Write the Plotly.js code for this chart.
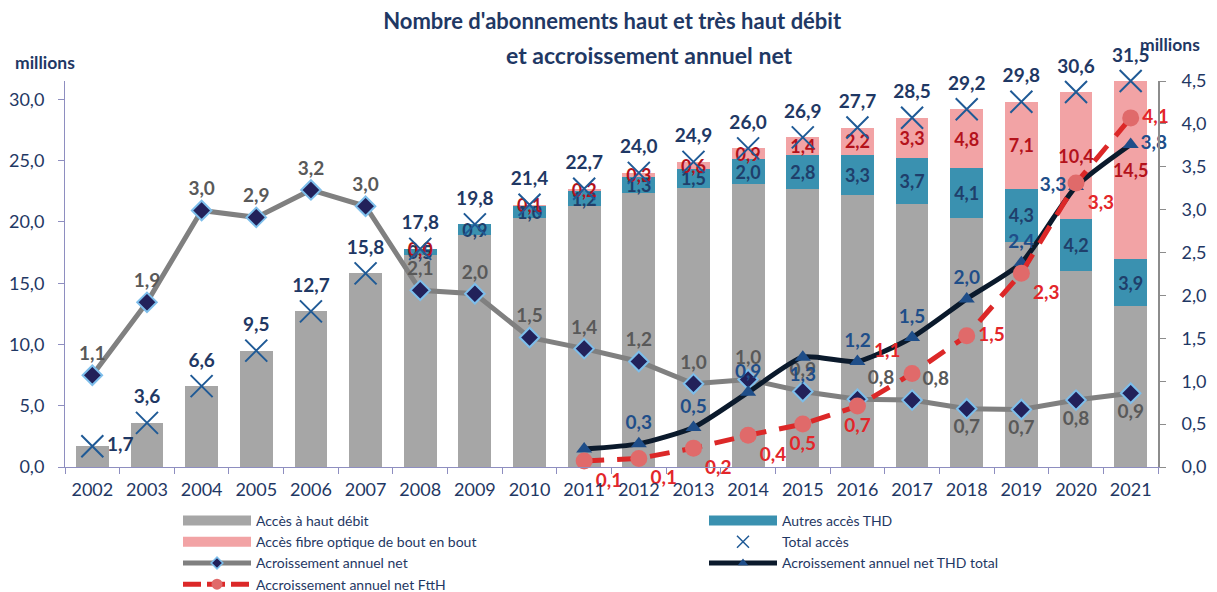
<!DOCTYPE html>
<html>
<head>
<meta charset="utf-8">
<script src="https://cdn.plot.ly/plotly-3.0.1.min.js"></script>
<style>html,body{margin:0;padding:0;background:#fff;}#chart{width:1217px;height:592px;}</style>
</head>
<body>
<div id="chart"></div>
<script>
// ---- data ----
const years = ['2002','2003','2004','2005','2006','2007','2008','2009','2010','2011','2012','2013','2014','2015','2016','2017','2018','2019','2020','2021'];
const hautDebit = [1.7,3.6,6.6,9.5,12.7,15.8,17.3,18.9,20.3,21.3,22.4,22.8,23.1,22.7,22.2,21.5,20.3,18.4,16.0,13.1];
const autresTHD = [null,null,null,null,null,null,0.45,0.9,1.0,1.2,1.3,1.5,2.0,2.8,3.3,3.7,4.1,4.3,4.2,3.9];
const fibreFttH = [null,null,null,null,null,null,0.02,null,0.1,0.2,0.3,0.6,0.9,1.4,2.2,3.3,4.8,7.1,10.4,14.5];
const totalAcces = [1.7,3.6,6.6,9.5,12.7,15.8,17.8,19.8,21.4,22.7,24.0,24.9,26.0,26.9,27.7,28.5,29.2,29.8,30.6,31.5];
const accroissementNet = [1.07,1.92,2.99,2.91,3.23,3.04,2.06,2.02,1.51,1.38,1.23,0.97,1.02,0.88,0.79,0.78,0.68,0.67,0.78,0.86];
const accroissementTHD = [null,null,null,null,null,null,null,null,null,0.21,0.27,0.46,0.87,1.28,1.23,1.51,1.96,2.38,3.27,3.76];
const accroissementFttH = [null,null,null,null,null,null,null,null,null,0.07,0.10,0.22,0.37,0.50,0.71,1.09,1.53,2.26,3.31,4.07];

const fmt = v => (v === null || v === undefined) ? '' : v.toFixed(1).replace('.', ',');
const FONT = 'Lato, "Open Sans", sans-serif';
const NAVY = '#1F3864';

// ---- label placement (style) ----
const netPos = years.map((y, i) => i <= 13 ? 'top center' : (i <= 15 ? 'top right' : 'bottom center'));
const thdPos = ['top center','top center','top center','top center','top center','top center','top center','top center','top center',
  'top center','top center','top center','top center','bottom center','top center','top center','top center','top center','middle left','middle right'];
const fttHPos = ['bottom right','bottom right','bottom right','bottom right','bottom right','bottom right','bottom right','bottom right','bottom right',
  'bottom right','bottom right','bottom right','bottom right','bottom center','bottom center','top left','middle right','bottom right','bottom right','middle right'];
const totalPos = years.map((y, i) => i === 0 ? 'middle right' : 'top center');
const thdLineText = accroissementTHD.map((v, i) => i === 9 ? '' : fmt(v));

const LBL = 19;
const labelFont = (c, s) => ({family: FONT, size: s || LBL, color: c, weight: 'bold'});

const GRAY = '#A6A6A6', TEAL = '#3A91B0', PINK = '#F2A3A5';
const traces = [
  {type:'bar', x: years, y: hautDebit, name:'Accès à haut débit', marker:{color:GRAY},
   showlegend:false, hoverinfo:'skip'},
  {type:'bar', x: years, y: autresTHD, name:'Autres accès THD', marker:{color:TEAL},
   text: autresTHD.map(fmt), textposition:'inside', insidetextanchor:'middle', textangle:0, constraintext:'none',
   textfont: labelFont('#1F3F6B', 18), showlegend:false, hoverinfo:'skip'},
  {type:'bar', x: years, y: fibreFttH, name:'Accès fibre optique de bout en bout', marker:{color:PINK},
   text: fibreFttH.map(fmt), textposition:'inside', insidetextanchor:'middle', textangle:0, constraintext:'none',
   textfont: labelFont('#B4121B', 18), showlegend:false, hoverinfo:'skip'},
  // total
  {type:'scatter', x: years, y: totalAcces, name:'Total accès', mode:'markers+text',
   marker:{symbol:'x-thin', size:22, color:'#1F5A96', line:{width:2, color:'#1F5A96'}},
   text: totalAcces.map(fmt), textposition: totalPos, textfont: labelFont(NAVY), cliponaxis:false,
   showlegend:false, hoverinfo:'skip'},
  // net annual increase
  {type:'scatter', x: years, y: accroissementNet, yaxis:'y2', name:'Acroissement annuel net', mode:'lines+markers+text',
   line:{color:'#808080', width:5},
   marker:{symbol:'diamond', size:15, color:'#22215A', line:{width:2, color:'#7DBEEB'}},
   text: accroissementNet.map(fmt), textposition: netPos, textfont: labelFont('#595959'), cliponaxis:false,
   showlegend:false, hoverinfo:'skip'},
  // THD total
  {type:'scatter', x: years, y: accroissementTHD, yaxis:'y2', name:'Acroissement annuel net THD total', mode:'lines+markers+text',
   line:{color:'#0B1A2C', width:5, shape:'spline', smoothing:0.6},
   marker:{symbol:'triangle-up', size:14, color:'#1F4E89'},
   text: thdLineText, textposition: thdPos, textfont: labelFont('#1F4E89'), cliponaxis:false,
   showlegend:false, hoverinfo:'skip'},
  // FttH
  {type:'scatter', x: years, y: accroissementFttH, yaxis:'y2', name:'Accroissement annuel net FttH', mode:'lines+markers+text',
   line:{color:'#DC2828', width:5, dash:'20px,13px'},
   marker:{symbol:'circle', size:17, color:'#E06A6A'},
   text: accroissementFttH.map(fmt), textposition: fttHPos, textfont: labelFont('#E3262A'), cliponaxis:false,
   showlegend:false, hoverinfo:'skip'},

  // ---- legend entries ----
  {type:'scatter', x:[null], y:[null], mode:'lines', name:'Accès à haut débit', line:{color:GRAY, width:13}, legend:'legend', legendrank:1},
  {type:'scatter', x:[null], y:[null], mode:'lines', name:'Accès fibre optique de bout en bout', line:{color:PINK, width:13}, legend:'legend', legendrank:2},
  {type:'scatter', x:[null], y:[null], yaxis:'y2', mode:'lines+markers', name:'Acroissement annuel net',
   line:{color:'#808080', width:5}, marker:{symbol:'diamond', size:9, color:'#22215A', line:{width:1.5, color:'#7DBEEB'}}, legend:'legend', legendrank:3},
  {type:'scatter', x:[null], y:[null], yaxis:'y2', mode:'lines+markers', name:'Accroissement annuel net FttH',
   line:{color:'#DC2828', width:5, dash:'18px,6px'}, marker:{symbol:'circle', size:11, color:'#E06A6A'}, legend:'legend', legendrank:4},
  {type:'scatter', x:[null], y:[null], mode:'lines', name:'Autres accès THD', line:{color:TEAL, width:13}, legend:'legend2', legendrank:1},
  {type:'scatter', x:[null], y:[null], mode:'markers', name:'Total accès',
   marker:{symbol:'x-thin', size:12, color:'#1F5A96', line:{width:1.5, color:'#1F5A96'}}, legend:'legend2', legendrank:2},
  {type:'scatter', x:[null], y:[null], yaxis:'y2', mode:'lines+markers', name:'Acroissement annuel net THD total',
   line:{color:'#0B1A2C', width:5}, marker:{symbol:'triangle-up', size:9, color:'#1F4E89'}, legend:'legend2', legendrank:3}
];

const axisFont = {family: FONT, size: 18, color: NAVY};
const legFont = {family: FONT, size: 14, color: NAVY};
const legY = (467-505)/386;
const layout = {
  width: 1217, height: 592,
  margin: {l:65, r:59, t:81, b:125, pad:0, autoexpand:false},
  paper_bgcolor:'#fff', plot_bgcolor:'#fff',
  separators: ', ',
  barmode:'stack', bargap:0.4,
  font:{family: FONT, color: NAVY},
  title:{text:"Nombre d'abonnements haut et très haut débit", x:0.503, xanchor:'center', xref:'container',
         y: 1 - 21/592, yanchor:'middle', yref:'container',
         font:{family: FONT, size: 22, color: NAVY, weight:'bold'}},
  xaxis:{type:'category', tickson:'boundaries', ticks:'outside', ticklen:6, tickcolor:'#8E8EC0',
         showline:true, linecolor:'#8E8EC0', linewidth:1, showgrid:false, zeroline:false,
         tickfont: axisFont, ticklabelstandoff: 6, range:[-0.5, 19.5], fixedrange:true},
  yaxis:{range:[0, 31.5], dtick:5, tick0:0, tickformat:'.1f', ticks:'outside', ticklen:6, tickcolor:'#8E8EC0',
         showline:true, linecolor:'#8E8EC0', linewidth:1, showgrid:false, zeroline:false,
         tickfont: axisFont, ticklabelstandoff: 10, fixedrange:true},
  yaxis2:{overlaying:'y', side:'right', range:[0, 4.5], dtick:0.5, tick0:0, tickformat:'.1f',
          ticks:'outside', ticklen:6, tickcolor:'#8C8C8C', showline:true, linecolor:'#8C8C8C', linewidth:2,
          showgrid:false, zeroline:false, tickfont: axisFont, ticklabelstandoff: 12, fixedrange:true},
  uniformtext:{mode:'show', minsize:18},
  legend:{x:(178-65)/1093, xanchor:'left', y:legY, yanchor:'top', orientation:'v', traceorder:'normal',
          itemwidth:68, tracegroupgap:0, font: legFont, bgcolor:'rgba(0,0,0,0)'},
  legend2:{x:(704-65)/1093, xanchor:'left', y:legY, yanchor:'top', orientation:'v', traceorder:'normal',
          itemwidth:68, tracegroupgap:0, font: legFont, bgcolor:'rgba(0,0,0,0)'},
  annotations:[
    {text:'et accroissement annuel net', xref:'paper', yref:'paper', x:(649-65)/1093, y:(467-55)/386,
     xanchor:'center', yanchor:'middle', showarrow:false, font:{family: FONT, size:23, color: NAVY, weight:'bold'}},
    {text:'millions', xref:'paper', yref:'paper', x:(45-65)/1093, y:(467-62)/386, xanchor:'center', yanchor:'middle',
     showarrow:false, font:{family: FONT, size:17.5, color: NAVY, weight:'bold'}},
    {text:'millions', xref:'paper', yref:'paper', x:(1170-65)/1093, y:(467-44)/386, xanchor:'center', yanchor:'middle',
     showarrow:false, font:{family: FONT, size:17.5, color: NAVY, weight:'bold'}}
  ],
  hovermode:false
};

Plotly.newPlot('chart', traces, layout, {displayModeBar:false, staticPlot:true});
</script>
</body>
</html>
